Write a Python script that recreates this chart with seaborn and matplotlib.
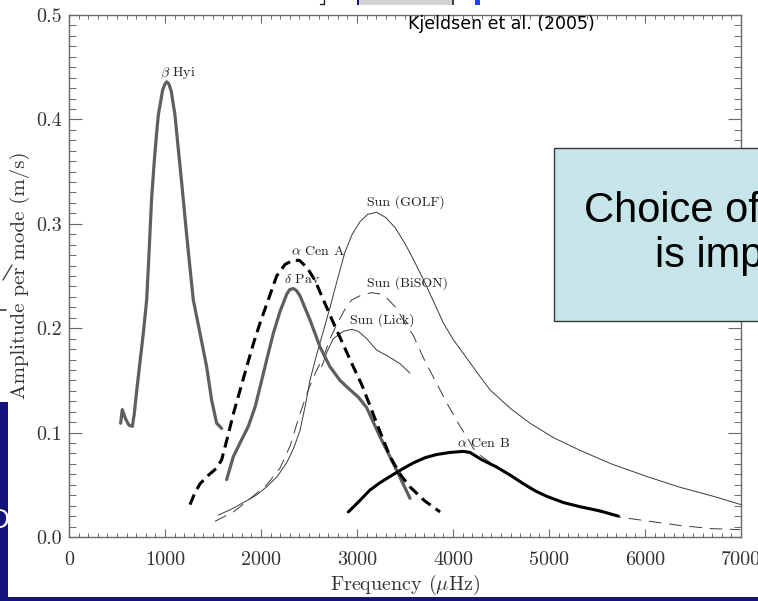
import matplotlib
matplotlib.use("Agg")
import matplotlib.pyplot as plt
from matplotlib.patches import Rectangle
from matplotlib.lines import Line2D
from matplotlib.ticker import MultipleLocator, FormatStrFormatter
import seaborn as sns

# Mean amplitude per radial mode versus frequency (frequency in µHz, amplitude in m/s)
bhyi_freq = [538, 555, 590, 625, 660, 680, 705, 740, 774, 809, 830, 861, 890, 913, 930, 975,
             1000, 1018, 1040, 1065, 1104, 1122, 1174, 1225, 1260, 1295, 1365, 1434, 1486,
             1538, 1590]
bhyi_amp = [0.109, 0.122, 0.113, 0.107, 0.106, 0.118, 0.140, 0.168, 0.195, 0.227, 0.265,
            0.325, 0.362, 0.387, 0.404, 0.428, 0.434, 0.436, 0.434, 0.427, 0.404, 0.387,
            0.339, 0.290, 0.258, 0.227, 0.195, 0.163, 0.131, 0.109, 0.104]

dpav_freq = [1642, 1712, 1781, 1868, 1940, 2007, 2060, 2128, 2198, 2270, 2300, 2337, 2370,
             2406, 2510, 2615, 2719, 2823, 2927, 3014, 3100, 3240, 3413, 3552]
dpav_amp = [0.055, 0.077, 0.090, 0.106, 0.125, 0.150, 0.170, 0.195, 0.216, 0.233, 0.237,
            0.238, 0.236, 0.231, 0.208, 0.182, 0.163, 0.150, 0.141, 0.134, 0.124, 0.096,
            0.064, 0.037]

acena_freq = [1260, 1310, 1365, 1450, 1538, 1590, 1650, 1712, 1780, 1851, 1920, 1990, 2094,
              2163, 2250, 2330, 2400, 2480, 2562, 2660, 2750, 2858, 2962, 3049, 3130, 3205,
              3344, 3450, 3552, 3700, 3865]
acena_amp = [0.031, 0.042, 0.051, 0.059, 0.066, 0.074, 0.095, 0.118, 0.140, 0.163, 0.185,
             0.205, 0.232, 0.250, 0.261, 0.265, 0.265, 0.258, 0.246, 0.225, 0.206, 0.184,
             0.163, 0.146, 0.127, 0.109, 0.077, 0.060, 0.048, 0.035, 0.024]

golf_freq = [1555, 1700, 1816, 1950, 2059, 2170, 2267, 2340, 2406, 2460, 2510, 2580, 2649,
             2719, 2800, 2875, 2950, 3031, 3110, 3205, 3300, 3400, 3500, 3587, 3700, 3795,
             3900, 4003, 4107, 4247, 4385, 4600, 4802, 5050, 5323, 5650, 6018, 6350, 6712, 7000]
golf_amp = [0.021, 0.027, 0.033, 0.040, 0.048, 0.058, 0.071, 0.085, 0.102, 0.125, 0.150,
            0.175, 0.197, 0.220, 0.248, 0.273, 0.290, 0.302, 0.309, 0.311, 0.306, 0.296,
            0.281, 0.266, 0.245, 0.226, 0.205, 0.189, 0.176, 0.158, 0.141, 0.123, 0.109,
            0.095, 0.083, 0.070, 0.058, 0.048, 0.039, 0.031]

bison_freq = [1521, 1712, 1851, 2059, 2198, 2302, 2406, 2493, 2570, 2649, 2719, 2802, 2880,
              2944, 3050, 3153, 3230, 3309, 3413, 3500, 3587, 3700, 3830, 3950, 4073, 4150,
              4210, 4300, 4455, 4600, 4733, 4860, 4976, 5150, 5323, 5530, 5740, 6050, 6365,
              6700, 6990]
bison_amp = [0.015, 0.024, 0.034, 0.050, 0.066, 0.087, 0.118, 0.141, 0.158, 0.172, 0.190,
             0.206, 0.219, 0.227, 0.232, 0.234, 0.233, 0.229, 0.219, 0.205, 0.193, 0.170,
             0.147, 0.126, 0.106, 0.095, 0.085, 0.077, 0.067, 0.059, 0.051, 0.044, 0.039,
             0.033, 0.029, 0.024, 0.019, 0.015, 0.011, 0.008, 0.007]

lick_freq = [2632, 2690, 2753, 2858, 2944, 3014, 3101, 3205, 3326, 3448, 3552]
lick_amp = [0.163, 0.178, 0.190, 0.197, 0.199, 0.197, 0.190, 0.179, 0.173, 0.166, 0.157]

acenb_freq = [2910, 3020, 3135, 3240, 3344, 3470, 3587, 3710, 3830, 3970, 4107, 4177, 4300,
              4455, 4600, 4733, 4860, 4976, 5150, 5323, 5530, 5722]
acenb_amp = [0.024, 0.034, 0.045, 0.052, 0.058, 0.065, 0.071, 0.076, 0.079, 0.081, 0.082,
             0.081, 0.074, 0.067, 0.059, 0.051, 0.044, 0.039, 0.033, 0.029, 0.025, 0.020]

# Curve labels and their anchor points
label_texts = [r"$\beta$ Hyi", r"$\alpha$ Cen A", r"$\delta$ Pav", "Sun (GOLF)",
               "Sun (BiSON)", "Sun (Lick)", r"$\alpha$ Cen B"]
label_freq = [1135, 2594, 2427, 3510, 3531, 3260, 4313]
label_amp = [0.444, 0.273, 0.247, 0.321, 0.243, 0.208, 0.090]

sns.set_theme(style="ticks")
plt.rcParams["font.family"] = ["cmr10", "DejaVu Serif"]
plt.rcParams["mathtext.fontset"] = "cm"
plt.rcParams["axes.unicode_minus"] = False
plt.rcParams["axes.formatter.use_mathtext"] = True

W, H = 758, 601
fig = plt.figure(figsize=(W / 100, H / 100), dpi=100)
fig.patch.set_facecolor("white")
ax = fig.add_axes([69 / W, 1 - 537 / H, 672 / W, 522 / H])
ax.set_facecolor("white")

grey = "#5f5f5f"
thin = "#3a3a3a"
sns.lineplot(x=golf_freq, y=golf_amp, ax=ax, color=thin, linewidth=0.7, sort=False)
sns.lineplot(x=bison_freq, y=bison_amp, ax=ax, color=thin, linewidth=0.7,
             linestyle=(0, (13, 8)), sort=False)
sns.lineplot(x=lick_freq, y=lick_amp, ax=ax, color=thin, linewidth=0.7, sort=False)
sns.lineplot(x=bhyi_freq, y=bhyi_amp, ax=ax, color=grey, linewidth=2.3, sort=False)
sns.lineplot(x=dpav_freq, y=dpav_amp, ax=ax, color=grey, linewidth=2.3, sort=False)
sns.lineplot(x=acena_freq, y=acena_amp, ax=ax, color="black", linewidth=2.2,
             linestyle=(0, (3.6, 2.0)), sort=False)
sns.lineplot(x=acenb_freq, y=acenb_amp, ax=ax, color="black", linewidth=2.2, sort=False)

for txt, fx, fy in zip(label_texts, label_freq, label_amp):
    ax.text(fx, fy, txt, ha="center", va="center", fontsize=10, color="#222222")

ax.set_xlim(0, 7000)
ax.set_ylim(0, 0.5)
ax.xaxis.set_major_locator(MultipleLocator(1000))
ax.xaxis.set_minor_locator(MultipleLocator(100))
ax.yaxis.set_major_locator(MultipleLocator(0.1))
ax.yaxis.set_minor_locator(MultipleLocator(0.01))
ax.yaxis.set_major_formatter(FormatStrFormatter("%.1f"))
ax.xaxis.set_major_formatter(FormatStrFormatter("%d"))

axis_col = "#6a6a6a"
for s in ax.spines.values():
    s.set_color(axis_col)
    s.set_linewidth(1.0)
    s.set_visible(True)
ax.tick_params(axis="x", which="major", direction="in", length=5.8, width=0.8,
               color=axis_col, top=True, bottom=True, labelsize=14.5,
               labelcolor="#333333", pad=10)
ax.tick_params(axis="x", which="minor", direction="in", length=2.9, width=0.7,
               color=axis_col, top=True, bottom=True)
ax.tick_params(axis="y", which="major", direction="in", length=9.4, width=0.8,
               color=axis_col, left=True, right=True, labelsize=14.5,
               labelcolor="#333333", pad=5)
ax.tick_params(axis="y", which="minor", direction="in", length=5.0, width=0.7,
               color=axis_col, left=True, right=True)

ax.set_xlabel(r"Frequency ($\mu$Hz)", fontsize=14.5, color="#333333")
ax.set_ylabel("Amplitude per mode (m/s)", fontsize=15, color="#333333", va="center")
ax.xaxis.set_label_coords((405 - 69) / 672, -(585 - 537) / 522)
ax.xaxis.label.set_va("center")
ax.yaxis.set_label_coords((20 - 69) / 672, (537 - 275) / 522)

fig.text(501 / W, 1 - 24 / H, "Kjeldsen et al. (2005)", ha="center", va="center",
         fontsize=12.5, family="DejaVu Sans", color="black")

# Slide elements around the figure
navy = "#14147c"
fig.add_artist(Rectangle((0, 0), 8 / W, (601 - 402) / H, transform=fig.transFigure,
                         facecolor=navy, edgecolor="none", zorder=5))
fig.add_artist(Rectangle((0, 0), 1, 4 / H, transform=fig.transFigure,
                         facecolor=navy, edgecolor="none", zorder=5))
fig.text(-10 / W, 1 - 521 / H, "D", ha="left", va="center", fontsize=20,
         family="Liberation Sans", color="white", zorder=6)
fig.add_artist(Rectangle((357 / W, 1 - 5 / H), 96 / W, 6 / H, transform=fig.transFigure,
                         facecolor="#d3d3d3", edgecolor="none", zorder=5))
fig.add_artist(Rectangle((357 / W, 1 - 5 / H), 2 / W, 6 / H, transform=fig.transFigure,
                         facecolor=navy, edgecolor="none", zorder=6))
fig.add_artist(Rectangle((452 / W, 1 - 5 / H), 1.5 / W, 6 / H, transform=fig.transFigure,
                         facecolor="#404040", edgecolor="none", zorder=6))
fig.add_artist(Rectangle((475 / W, 1 - 5 / H), 5 / W, 6 / H, transform=fig.transFigure,
                         facecolor="#1f3ff0", edgecolor="none", zorder=6))
fig.add_artist(Line2D([320 / W, 324 / W, 324 / W], [1 - 4 / H, 1 - 4 / H, 1.0],
                      transform=fig.transFigure, color="#202020", lw=1.0, zorder=6))
fig.add_artist(Line2D([3 / W, 12 / W], [1 - 280 / H, 1 - 265 / H],
                      transform=fig.transFigure, color="#404040", lw=1.0, zorder=6))
fig.add_artist(Line2D([0, 6 / W], [1 - 310 / H, 1 - 310 / H],
                      transform=fig.transFigure, color="#404040", lw=1.2, zorder=6))

fig.add_artist(Rectangle((554 / W, 1 - 321 / H), 220 / W, 173 / H, transform=fig.transFigure,
                         facecolor="#c5e5e8", edgecolor="#3a3a3a", lw=1.0, zorder=7))
fig.text(584 / W, 1 - 221.5 / H, "Choice of", ha="left", va="baseline", fontsize=30,
         family="Liberation Sans", color="black", zorder=8)
fig.text(655 / W, 1 - 266.5 / H, "is imp", ha="left", va="baseline", fontsize=30,
         family="Liberation Sans", color="black", zorder=8)

fig.savefig("out.png", dpi=100)
